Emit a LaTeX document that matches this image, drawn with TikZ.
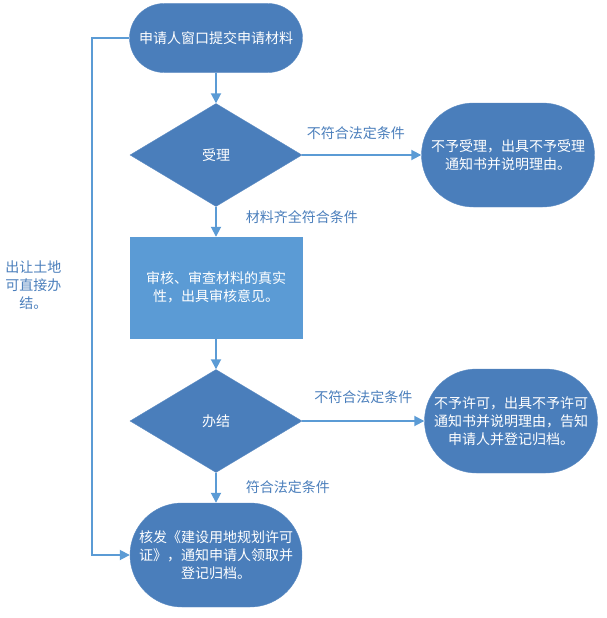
\documentclass[tikz,border=0pt]{standalone}
\usepackage{fontspec}
\setmainfont{Noto Sans CJK SC}
\usetikzlibrary{shapes.geometric,shapes.misc,arrows.meta}
\definecolor{dk}{HTML}{4A7EBB}
\definecolor{lt}{HTML}{5B9BD5}
\definecolor{lblc}{HTML}{4A7EBB}
\begin{document}
\begin{tikzpicture}[x=1pt,y=-1pt,
  txt/.style={text=white, font=\fontsize{14}{18}\selectfont, align=center, inner sep=0pt},
  term/.style={txt, rounded rectangle, fill=dk, draw=dk!90!white},
  dia/.style={txt, diamond, fill=dk, draw=dk!90!white},
  boxr/.style={txt, rectangle, fill=lt, draw=lt},
  lbl/.style={text=lblc, font=\fontsize{14}{18}\selectfont, inner sep=0pt, align=center},
  arr/.style={draw=lt, line width=1.8pt, -{Triangle[length=10pt,width=10pt]}}]
\useasboundingbox (0,0) rectangle (606,618);
\node[term, minimum width=173pt, minimum height=69pt] (start) at (216,38) {申请人窗口提交申请材料};
\node[dia, minimum width=172pt, minimum height=103pt] (d1) at (216,155) {受理};
\node[term, minimum width=173pt, minimum height=104pt] (r1) at (508,155) {不予受理，出具不予受理\\通知书并说明理由。};
\node[boxr, minimum width=172pt, minimum height=101pt] (chk) at (216,287.5) {审核、审查材料的真实\\性，出具审核意见。};
\node[dia, minimum width=172pt, minimum height=103pt] (d2) at (216,421) {办结};
\node[term, minimum width=173pt, minimum height=104pt] (r2) at (511,421) {不予许可，出具不予许可\\通知书并说明理由，告知\\申请人并登记归档。};
\node[term, minimum width=172pt, minimum height=104pt] (fin) at (216,555) {核发《建设用地规划许可\\证》，通知申请人领取并\\登记归档。};

\draw[arr] (start.south) -- (d1.north);
\draw[arr] (d1.east) -- node[lbl, pos=0.45, above=14pt] {不符合法定条件} (r1.west);
\draw[arr] (d1.south) -- node[lbl, pos=0.35, right=29pt] {材料齐全符合条件} (chk.north);
\draw[arr] (chk.south) -- (d2.north);
\draw[arr] (d2.east) -- node[lbl, midway, above=16pt] {不符合法定条件} (r2.west);
\draw[arr] (d2.south) -- node[lbl, pos=0.47, right=29pt] {符合法定条件} (fin.north);
\draw[arr] (start.west) -- ++(-37,0) coordinate (lc) |- node[lbl, pos=0.239, left=30pt] {出让土地\\可直接办\\结。} (fin.west);
\end{tikzpicture}
\end{document}
